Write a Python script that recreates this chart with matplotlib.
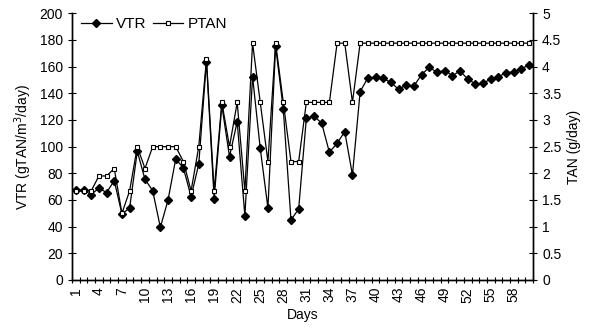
import matplotlib
matplotlib.use("Agg")
from matplotlib import pyplot as plt
import numpy as np

plt.rcParams['font.family'] = ['Liberation Sans', 'DejaVu Sans']
plt.rcParams['font.size'] = 10

days = np.arange(1, 61)

vtr = [67.5, 67.5, 64, 69, 65.5, 74.5, 49.5, 54, 96.5, 75.5,
       67, 39.5, 60, 90.75, 84, 62.5, 87, 163.75, 61, 131,
       92.5, 118.75, 48, 152.5, 98.75, 54, 175.5, 128, 45, 53.25,
       121.25, 123, 117.5, 95.75, 102.5, 111.25, 78.75, 141.25, 151.5, 152,
       151.25, 148.25, 143, 146.25, 145.5, 154, 159.5, 155.75, 157, 153.25,
       156.75, 150.75, 147, 147.5, 150.75, 152.5, 155.5, 156, 158.5, 161.25]

ptan = [1.67, 1.67, 1.67, 1.95, 1.95, 2.09, 1.25, 1.67, 2.5, 2.09,
        2.5, 2.5, 2.5, 2.5, 2.22, 1.67, 2.5, 4.14, 1.67, 3.33,
        2.5, 3.33, 1.67, 4.44, 3.33, 2.22, 4.44, 3.33, 2.22, 2.22,
        3.33, 3.33, 3.33, 3.33, 4.44, 4.44, 3.33, 4.44, 4.44, 4.44,
        4.44, 4.44, 4.44, 4.44, 4.44, 4.44, 4.44, 4.44, 4.44, 4.44,
        4.44, 4.44, 4.44, 4.44, 4.44, 4.44, 4.44, 4.44, 4.44, 4.44]

day_labels = [str(d) for d in range(1, 59, 3)]

fig = plt.figure(figsize=(5.91, 3.36), dpi=100)
ax1 = fig.add_axes([0.1218, 0.1667, 0.7801, 0.7937])
ax2 = ax1.twinx()

l1, = ax1.plot(days, vtr, color='black', lw=0.9, marker='D', ms=4,
               mfc='black', mec='black', label='VTR')
l2, = ax2.plot(days, ptan, color='black', lw=0.9, marker='s', ms=3.5,
               mfc='white', mec='black', mew=0.8, label='PTAN')

ax1.set_xlim(0.5, 60.5)
ax1.set_ylim(0, 200)
ax2.set_ylim(0, 5)
ax1.set_yticks(np.arange(0, 201, 20))
ax2.set_yticks(np.arange(0, 5.01, 0.5))
ax2.set_yticklabels(['0', '0.5', '1', '1.5', '2', '2.5', '3', '3.5', '4', '4.5', '5'])

# tick marks at category boundaries, labels at category centres
ax1.set_xticks(np.arange(0.5, 61, 1))
ax1.set_xticklabels([])
ax1.set_xticks(np.arange(1, 59, 3), minor=True)
ax1.set_xticklabels(day_labels, minor=True, rotation=90)
ax1.tick_params(axis='x', which='major', direction='inout', length=5, width=0.8)
ax1.tick_params(axis='x', which='minor', length=0, pad=5)
ax1.tick_params(axis='y', direction='inout', length=6, width=0.8)
ax2.tick_params(axis='y', direction='inout', length=6, width=0.8)

for ax in (ax1, ax2):
    ax.spines['top'].set_visible(False)
    for s in ('left', 'right', 'bottom'):
        ax.spines[s].set_linewidth(1.0)

ax1.set_ylabel('VTR (gTAN/m$^3$/day)')
ax2.set_ylabel('TAN (g/day)')
ax1.set_xlabel('Days', labelpad=4)

ax1.legend([l1, l2], ['VTR', 'PTAN'], loc='upper left', ncol=2, frameon=False,
           bbox_to_anchor=(0.0, 1.02), handlelength=2.0, handletextpad=0.3,
           columnspacing=0.4, borderaxespad=0.2, fontsize=11)

fig.savefig('out.png', dpi=100)
